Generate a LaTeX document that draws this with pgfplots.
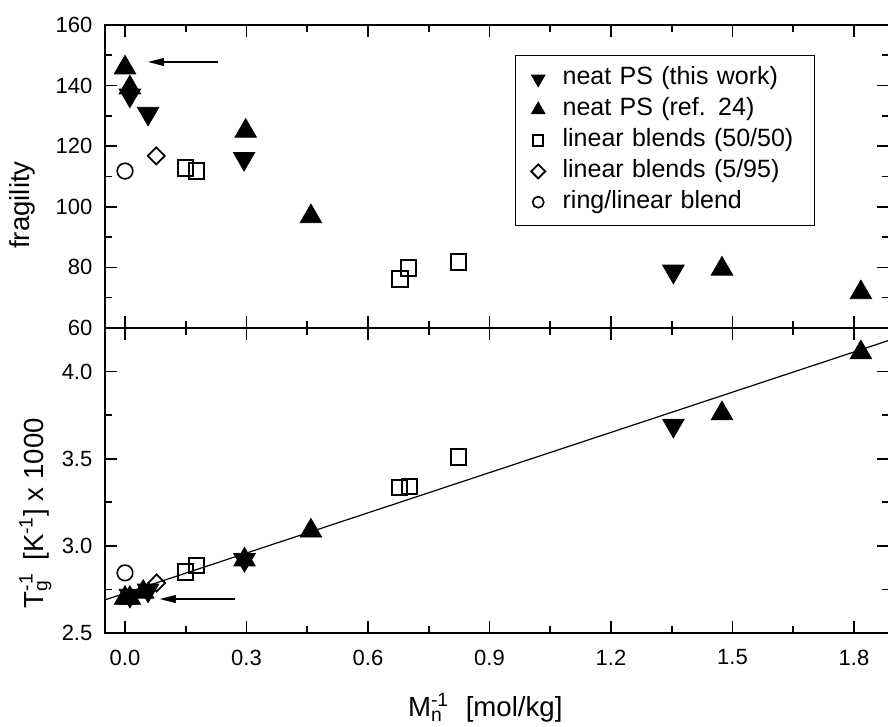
\documentclass[border=0pt]{standalone}
\usepackage{fontspec}
\setmainfont{Liberation Sans}
\usepackage{pgfplots}
\pgfplotsset{compat=1.18}
\usetikzlibrary{arrows.meta}

\pgfplotsset{
  panel/.style={
    scale only axis, width=392pt,
    xmin=-0.0494, xmax=1.8864,
    axis line style={line width=0.8pt},
    tick align=inside, tick style={line width=0.8pt, black},
    major tick length=6pt, minor tick length=3.5pt,
    xtick={0,0.3,0.6,0.9,1.2,1.5,1.8}, minor x tick num=1,
    xtick pos=both, ytick pos=both,
    tick label style={font=\fontsize{11}{13}\selectfont},
    /pgf/number format/assume math mode=true,
    x tick label style={yshift=-4.8pt, /pgf/number format/.cd, fixed, fixed zerofill, precision=1, /tikz/.cd},
    y tick label style={xshift=-2.8pt},
    label style={font=\fontsize{13.8}{16}\selectfont},
  },
  dn/.style={only marks, black, mark=triangle*, mark size=6.2pt, mark options={rotate=180, fill=black},
    legend image post style={mark size=3.7pt}},
  up/.style={only marks, black, mark=triangle*, mark size=6.2pt, mark options={fill=black},
    legend image post style={mark size=3.7pt}},
  sq/.style={only marks, black, mark=square, mark size=3.8pt, mark options={line width=1pt},
    legend image post style={mark size=2.6pt}},
  dm/.style={only marks, black, mark=square, mark size=3.0pt, mark options={rotate=45, line width=0.9pt},
    legend image post style={mark size=2.5pt}},
  ci/.style={only marks, black, mark=o, mark size=3.9pt, mark options={line width=0.8pt},
    legend image post style={mark size=2.8pt}},
  % marker only, inside a 17pt wide cell
  boxswatch/.style={legend image code/.code={%
    \path[draw=none] (0pt,0pt) -- (17pt,0pt); \draw[##1] plot coordinates {(11.3pt,0pt)};}},
}

\begin{document}
\begin{tikzpicture}

% upper panel: fragility
\begin{axis}[panel, name=top, at={(0pt,152.5pt)}, anchor=south west, height=151.5pt,
  ymin=60, ymax=160, ytick={60,80,100,120,140,160}, minor y tick num=1,
  xticklabels=\empty,
  ylabel={fragility},
  ylabel style={at={(axis description cs:-0.096,0.406)}, anchor=base},
  legend cell align=left,
  legend style={at={(rel axis cs:0.523,0.901)}, anchor=north west,
    draw=black, line width=0.6pt, inner xsep=0pt, inner ysep=4pt,
    font=\fontsize{12.5}{15}\selectfont, column sep=3.5pt,
    nodes={inner xsep=3pt, inner ysep=1.7pt, text height=9pt, text depth=3pt, text width=123pt}},
  boxswatch,
]
\addplot[dn] coordinates {(0.012,136.8) (0.057,130.8) (0.294,115.9) (1.354,78.7)};
\addlegendentry{neat PS (this work)}
\addplot[up] coordinates {(0,145.9) (0.012,139.3) (0.298,125.0) (0.459,96.8) (1.474,79.5) (1.817,71.7)};
\addlegendentry{neat PS (ref. 24)}
\addplot[sq] coordinates {(0.150,112.8) (0.177,111.8) (0.679,76.2) (0.700,79.8) (0.823,81.8)};
\addlegendentry{linear blends (50/50)}
\addplot[dm] coordinates {(0.077,116.8)};
\addlegendentry{linear blends (5/95)}
\addplot[ci] coordinates {(0,111.8)};
\addlegendentry{ring/linear blend}
\draw[line width=0.6pt, -{Triangle[length=8pt,width=4pt]}] (axis cs:0.230,147.8) -- (axis cs:0.057,147.8);
\end{axis}

% lower panel: inverse Tg
\begin{axis}[panel, name=bot, at={(0pt,0pt)}, anchor=south west, height=152.5pt,
  ymin=2.5, ymax=4.25, ytick={2.5,3.0,3.5,4.0}, minor y tick num=1,
  y tick label style={/pgf/number format/.cd, fixed, fixed zerofill, precision=1, /tikz/.cd},
  ylabel={T\rlap{\textsubscript{g}}\textsuperscript{-1}\hspace{0.45em}[K\textsuperscript{-1}] x 1000},
  ylabel style={at={(axis description cs:-0.079,0.393)}, anchor=base},
  xlabel={M\rlap{\textsubscript{n}}\textsuperscript{-1}\hspace{0.6em}[mol/kg]},
  xlabel style={at={(axis description cs:0.485,-0.275)}, anchor=base},
]
\addplot[black, line width=0.6pt] coordinates {(-0.0494,2.690) (1.8864,4.179)};
\addplot[dn] coordinates {(0.012,2.715) (0.057,2.745) (0.295,2.92) (1.354,3.691)};
\addplot[up] coordinates {(0,2.700) (0.012,2.700) (0.045,2.735) (0.295,2.92) (0.459,3.086) (1.474,3.759) (1.817,4.109)};
\addplot[sq] coordinates {(0.150,2.850) (0.177,2.885) (0.677,3.333) (0.703,3.339) (0.823,3.510)};
\addplot[dm] coordinates {(0.078,2.787)};
\addplot[ci] coordinates {(0,2.845)};
\draw[line width=0.6pt, -{Triangle[length=8pt,width=4pt]}] (axis cs:0.272,2.695) -- (axis cs:0.086,2.695);
\end{axis}

\pgfresetboundingbox
\useasboundingbox (-52.5pt,-47pt) rectangle (391.5pt,316.5pt);
\end{tikzpicture}
\end{document}
